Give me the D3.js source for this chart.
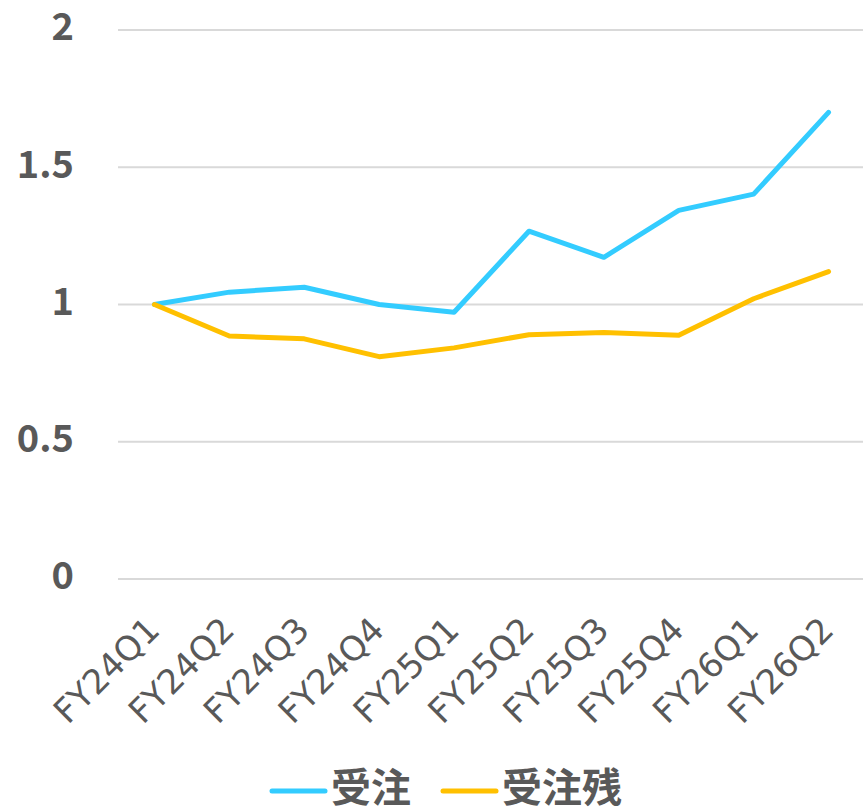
<!DOCTYPE html>
<html>
<head>
<meta charset="utf-8">
<script src="https://cdn.jsdelivr.net/npm/d3@7"></script>
<style>
  body { margin: 0; background: #fff; }
  svg text { font-family: "Noto Sans CJK JP", "Noto Sans", sans-serif; fill: #595959; }
</style>
</head>
<body>
<div id="chart"></div>
<script>
const categories = ["FY24Q1", "FY24Q2", "FY24Q3", "FY24Q4", "FY25Q1", "FY25Q2", "FY25Q3", "FY25Q4", "FY26Q1", "FY26Q2"];
const orders = [1.0, 1.045, 1.063, 1.0, 0.972, 1.267, 1.172, 1.343, 1.402, 1.70];
const backlog = [1.0, 0.885, 0.875, 0.81, 0.842, 0.89, 0.898, 0.888, 1.021, 1.12];
const yTicks = [0, 0.5, 1, 1.5, 2];
const seriesNames = ["受注", "受注残"];
const seriesColors = ["#33CCFF", "#FFC000"];

const width = 863, height = 809;
const plotLeft = 117, plotRight = 866, plotTop = 30, plotBottom = 579;

const svg = d3.select("#chart").append("svg")
    .attr("width", width)
    .attr("height", height);

const x = d3.scalePoint()
    .domain(categories)
    .range([plotLeft, plotRight])
    .padding(0.5);

const y = d3.scaleLinear()
    .domain([0, 2])
    .range([plotBottom, plotTop]);

// gridlines
svg.append("g")
    .selectAll("line")
    .data(yTicks)
    .enter()
    .append("line")
    .attr("x1", plotLeft + 1)
    .attr("x2", width)
    .attr("y1", d => y(d))
    .attr("y2", d => y(d))
    .attr("stroke", "#d9d9d9")
    .attr("stroke-width", 2);

// y labels
svg.append("g")
    .selectAll("text")
    .data(yTicks)
    .enter()
    .append("text")
    .attr("x", 74)
    .attr("y", d => y(d) - 3)
    .attr("dy", "0.35em")
    .attr("text-anchor", "end")
    .style("font-size", "38px")
    .style("font-weight", "bold")
    .text(d => d);

// x labels, rotated
svg.append("g")
    .selectAll("text")
    .data(categories)
    .enter()
    .append("text")
    .attr("text-anchor", "end")
    .attr("transform", d => "translate(" + (x(d) + 7) + "," + (plotBottom + 53) + ") rotate(-45)")
    .style("font-family", "'DejaVu Sans', sans-serif")
    .style("font-size", "34px")
    .text(d => d);

// lines
const line = d3.line()
    .x((d, i) => x(categories[i]))
    .y(d => y(d));

[orders, backlog].forEach((data, k) => {
    svg.append("path")
        .datum(data)
        .attr("d", line)
        .attr("fill", "none")
        .attr("stroke", seriesColors[k])
        .attr("stroke-width", 5)
        .attr("stroke-linejoin", "round")
        .attr("stroke-linecap", "round");
});

// legend
const legendX = [272, 443];
const legend = svg.append("g");
seriesNames.forEach((name, k) => {
    legend.append("line")
        .attr("x1", legendX[k])
        .attr("x2", legendX[k] + 53)
        .attr("y1", 791)
        .attr("y2", 791)
        .attr("stroke", seriesColors[k])
        .attr("stroke-width", 5)
        .attr("stroke-linecap", "round");
    legend.append("text")
        .attr("x", legendX[k] + 59)
        .attr("y", 787)
        .attr("dy", "0.38em")
        .style("font-size", "40px")
        .style("font-weight", "bold")
        .text(name);
});
</script>
</body>
</html>
